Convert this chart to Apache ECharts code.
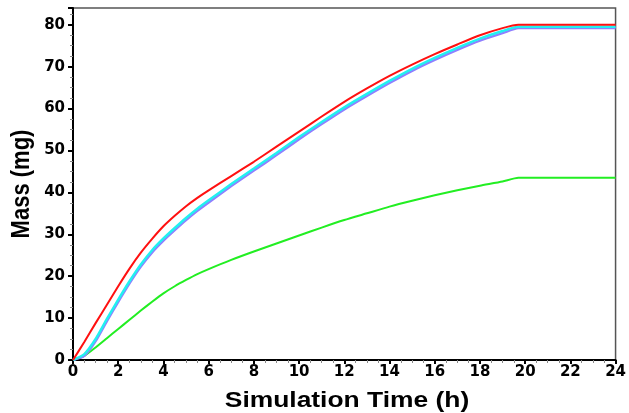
<!DOCTYPE html>
<html>
<head>
<meta charset="utf-8">
<script src="https://cdn.jsdelivr.net/npm/echarts@6/dist/echarts.min.js"></script>
<style>
  html, body { margin: 0; padding: 0; background: #fff; }
  #chart { width: 629px; height: 413px; }
</style>
</head>
<body>
<div id="chart"></div>
<script>
  // time points (h)
  var timeH = [0, 0.5, 1, 1.5, 2, 2.5, 3, 3.5, 4, 4.5, 5, 5.5, 6, 7, 8, 9, 10, 11, 12, 13, 14, 15, 16, 17, 18, 19, 19.7, 24];
  var redMass = [0, 4.3, 8.8, 13.2, 17.6, 21.8, 25.6, 28.9, 31.9, 34.4, 36.7, 38.7, 40.5, 43.9, 47.3, 50.9, 54.5, 58.1, 61.6, 64.8, 67.8, 70.5, 73, 75.3, 77.5, 79.2, 80, 80];
  var blueMass = [0, 1, 4.5, 9.3, 13.9, 18.3, 22.3, 25.7, 28.5, 31, 33.4, 35.6, 37.6, 41.5, 45.2, 48.9, 52.7, 56.3, 59.8, 63, 66.1, 69, 71.6, 74, 76.2, 78, 79.2, 79.2];
  var cyanMass = [0, 1.4, 5, 9.8, 14.4, 18.8, 22.8, 26.2, 29, 31.5, 33.9, 36.1, 38.1, 42, 45.7, 49.4, 53.2, 56.8, 60.3, 63.5, 66.6, 69.5, 72.1, 74.5, 76.7, 78.5, 79.5, 79.5];
  var greenMass = [0, 1, 3, 5.2, 7.4, 9.6, 11.8, 13.9, 15.9, 17.6, 19.1, 20.5, 21.7, 23.9, 25.9, 27.8, 29.7, 31.6, 33.4, 35, 36.6, 38, 39.3, 40.5, 41.6, 42.6, 43.5, 43.5];
  var xTicks = [0, 2, 4, 6, 8, 10, 12, 14, 16, 18, 20, 22, 24];

  function pairs(ys) {
    return timeH.map(function (t, i) { return [t, ys[i]]; });
  }

  function line(name, color, ys, width) {
    return {
      name: name,
      type: 'line',
      data: pairs(ys),
      showSymbol: false,
      smooth: 0.2,
      lineStyle: { color: color, width: width },
      itemStyle: { color: color },
      z: 3
    };
  }

  var tickFont = 'DejaVu Sans, Verdana, sans-serif';
  var titleFont = 'Liberation Sans, Arial, sans-serif';

  var chart = echarts.init(document.getElementById('chart'));
  chart.setOption({
    animation: false,
    backgroundColor: '#fff',
    textStyle: { fontFamily: tickFont },
    grid: { left: 73, right: 10, top: 8, bottom: 53, show: true, borderColor: '#555', borderWidth: 1.5 },
    // axis titles: the original figure is stretched sideways, so widen the text
    graphic: [
      {
        type: 'text', x: 347, y: 401, scaleX: 1.2,
        style: { text: 'Simulation Time (h)', font: 'bold 22px ' + titleFont, fill: '#000', align: 'center', verticalAlign: 'middle' }
      },
      {
        type: 'text', x: 22, y: 184, rotation: Math.PI / 2, scaleY: 1.2,
        style: { text: 'Mass (mg)', font: 'bold 22px ' + titleFont, fill: '#000', align: 'center', verticalAlign: 'middle' }
      }
    ],
    xAxis: {
      type: 'value',
      min: 0,
      max: 24,
      interval: 2,
      axisLine: { lineStyle: { color: '#000', width: 2 } },
      axisTick: { length: 4, lineStyle: { color: '#000', width: 2 } },
      minorTick: { show: true, splitNumber: 4, length: 3, lineStyle: { color: '#888' } },
      axisLabel: {
        fontSize: 15, fontWeight: 'bold', color: '#000', margin: 5,
        formatter: function (v) { return xTicks.indexOf(v) >= 0 ? String(v) : ''; }
      },
      splitLine: { show: false }
    },
    yAxis: {
      type: 'value',
      min: 0,
      max: 84,
      interval: 10,
      axisLine: { lineStyle: { color: '#000', width: 2 } },
      axisTick: { length: 5, lineStyle: { color: '#000', width: 2 } },
      minorTick: { show: true, splitNumber: 4, length: 3, lineStyle: { color: '#888' } },
      axisLabel: {
        fontSize: 15, fontWeight: 'bold', color: '#000', margin: 8,
        showMaxLabel: false
      },
      splitLine: { show: false }
    },
    series: [
      line('green', '#22ee22', greenMass, 2),
      line('blue', '#8f7fff', blueMass, 2.5),
      line('cyan', '#22f0f0', cyanMass, 2.5),
      line('red', '#ff1010', redMass, 2)
    ]
  });
</script>
</body>
</html>
